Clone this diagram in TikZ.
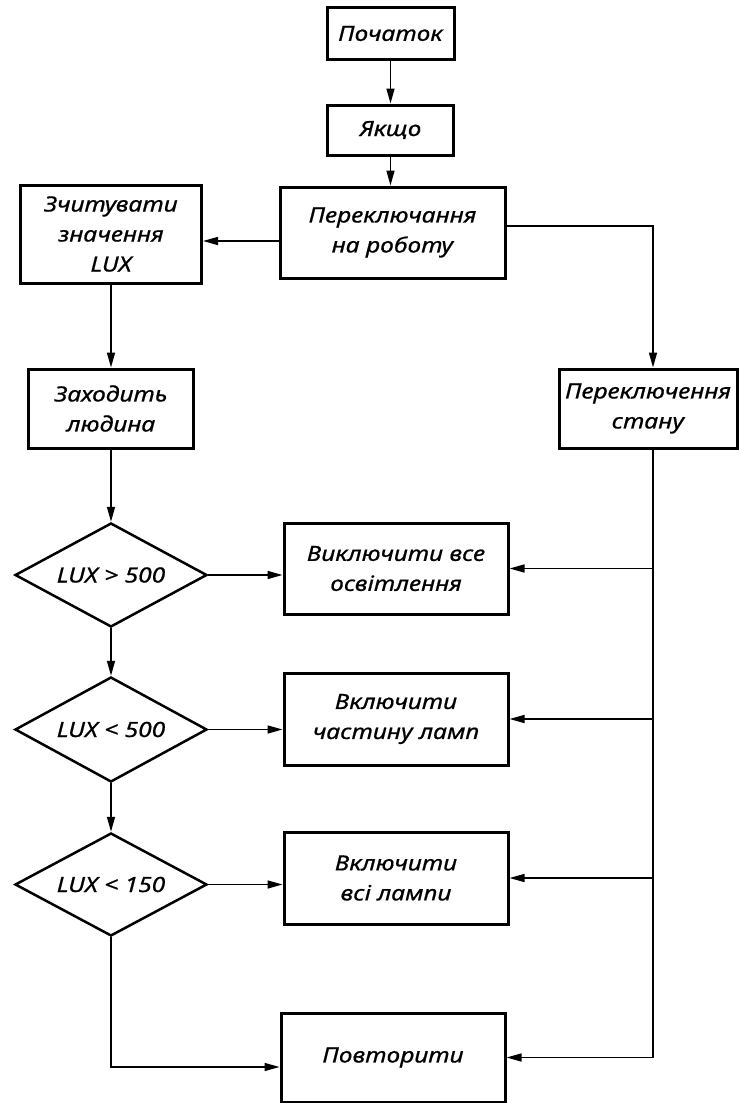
\documentclass[tikz,border=0pt]{standalone}
\usepackage{fontspec}
\newfontfamily\lab{Noto Sans}[FakeStretch=1.17, FakeBold=0.8]
\usetikzlibrary{arrows.meta,shapes.geometric}
\tikzset{
  txt/.style={font=\lab\itshape\fontsize{21}{30}\selectfont, align=center, inner sep=0pt},
  box/.style={txt, draw, line width=3pt, rectangle},
  dia/.style={txt, draw, line width=2.5pt, diamond, minimum width=192pt, minimum height=104pt},
  conn/.style={line width=1.5pt},
  arr/.style={conn, -{Triangle[length=15pt,width=8pt]}}
}
\newcommand{\zw}[1]{\makebox[0pt]{#1}}
\begin{document}
\begin{tikzpicture}[x=1pt,y=-1pt]
\useasboundingbox (0,0) rectangle (739,1103);
\node[box, minimum width=127pt, minimum height=52pt] (start) at (390.5,33.5) {Початок};
\node[box, minimum width=126pt, minimum height=50pt] (iff) at (390.5,130) {Якщо};
\node[box, minimum width=225pt, minimum height=91pt] (switch) at (392.5,232.5) {Переключання\\на роботу};
\node[box, minimum width=181pt, minimum height=98pt] (read) at (111,234) {Зчитувати\\значення\\LUX};
\node[box, minimum width=165pt, minimum height=79pt] (enter) at (111,408.5) {Заходить\\людина};
\node[box, minimum width=178pt, minimum height=79pt] (state) at (648,408.5) {Переключення\\стану};
\node[dia] (d1) at (111,575) {\zw{LUX > 500}};
\node[box, minimum width=224pt, minimum height=91pt] (off) at (396,568.5) {Виключити все\\освітлення};
\node[dia, minimum height=105pt] (d2) at (111,729.5) {\zw{LUX < 500}};
\node[box, minimum width=224pt, minimum height=92pt] (part) at (396,719) {Включити\\частину ламп};
\node[dia, minimum height=103pt] (d3) at (111,884.5) {\zw{LUX < 150}};
\node[box, minimum width=224pt, minimum height=92pt] (all) at (396,878) {Включити\\всі лампи};
\node[box, minimum width=224pt, minimum height=89pt] (rep) at (393,1057.5) {Повторити};
\coordinate (j1) at (0,241);
\coordinate (j2) at (0,1067);
\coordinate (j3) at (0,226);
\coordinate (sx) at (653,0);
\draw[arr] (start) -- (iff);
\draw[arr] (iff.south) -- (iff.south|-switch.north);
\draw[arr] (switch.west|-j1) -- (read.east|-j1);
\draw[arr] (switch.east|-j3) -- (sx|-j3) -- (sx|-state.north);
\draw[arr] (read) -- (enter);
\draw[arr] (enter) -- (d1);
\draw[arr] (d1.east) -- (off.west|-d1.east);
\draw[arr] (d1) -- (d2);
\draw[arr] (d2.east) -- (part.west|-d2.east);
\draw[arr] (d2) -- (d3);
\draw[arr] (d3.east) -- (all.west|-d3.east);
\draw[arr] (d3.south) -- (d3.south|-j2) -- (rep.west|-j2);
\draw[arr] (sx|-state.south) -- (sx|-rep.east) -- (rep.east);
\draw[arr] (sx|-off.east) -- (off.east);
\draw[arr] (sx|-part.east) -- (part.east);
\draw[arr] (sx|-all.east) -- (all.east);
\end{tikzpicture}
\end{document}
